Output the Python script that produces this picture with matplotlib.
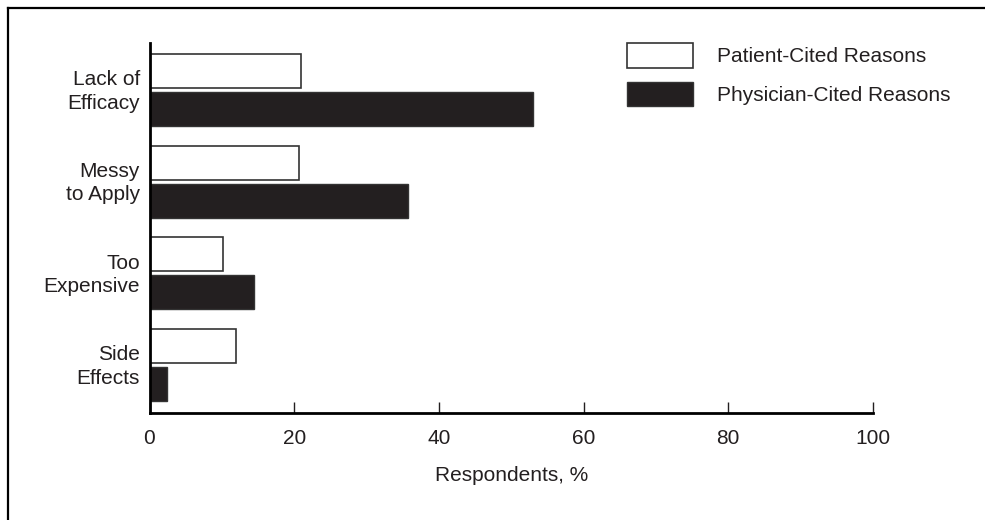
import matplotlib
matplotlib.use("Agg")
import matplotlib.pyplot as plt
from matplotlib.lines import Line2D
from matplotlib.transforms import ScaledTranslation
import numpy as np

# --- donnees ---
categories = ["Lack of\nEfficacy", "Messy\nto Apply", "Too\nExpensive", "Side\nEffects"]
patient = [21.0, 20.6, 10.1, 12.0]
medecin = [53.0, 35.7, 14.5, 2.4]
noms_series = ["Patient-Cited Reasons", "Physician-Cited Reasons"]
graduations = [0, 20, 40, 60, 80, 100]

ENCRE = "#231f20"
plt.rcParams["font.family"] = ["Liberation Sans", "DejaVu Sans"]
plt.rcParams["font.size"] = 15

W, H = 985, 520
fig = plt.figure(figsize=(W / 100, H / 100), dpi=100)
ax = fig.add_axes([149.5 / W, 1 - 413 / H, (873 - 149.5) / W, (413 - 43) / H])

y = np.arange(len(categories))
haut = 0.37
dec = 0.207
ax.barh(y - dec, patient, height=haut, color="white", edgecolor="#333333",
        linewidth=1.2, label=noms_series[0])
ax.barh(y + dec, medecin, height=haut, color=ENCRE, edgecolor="#333333",
        linewidth=1.0, label=noms_series[1])

ax.set_xlim(0, 100)
ax.set_ylim(3.52, -0.51)
ax.set_yticks(y)
ax.set_yticklabels(categories, color=ENCRE, ha="right", linespacing=1.3)
ax.tick_params(axis="y", length=0, pad=7)
# petit decalage vers le haut des etiquettes de categories
decalage = ScaledTranslation(0, 2 / 72, fig.dpi_scale_trans)
for lab in ax.get_yticklabels():
    lab.set_transform(lab.get_transform() + decalage)
ax.set_xticks(graduations)
ax.tick_params(axis="x", direction="in", length=8, width=1, pad=11.5,
               colors=ENCRE, labelcolor=ENCRE)
for s in ("top", "right"):
    ax.spines[s].set_visible(False)
for s in ("left", "bottom"):
    ax.spines[s].set_linewidth(2)
    ax.spines[s].set_color("black")
ax.set_xlabel("Respondents, %", color=ENCRE, labelpad=13)

ax.legend(loc="upper left", bbox_to_anchor=(627 / W, 1 - 43 / H),
          bbox_transform=fig.transFigure, frameon=False, borderpad=0,
          borderaxespad=0, handlelength=3.17, handleheight=1.45,
          handletextpad=1.15, labelspacing=0.67, labelcolor=ENCRE)

# cadre partiel (haut et gauche)
fig.add_artist(Line2D([8 / W, 1], [1 - 7.5 / H, 1 - 7.5 / H],
                      transform=fig.transFigure, color="black", lw=1.6))
fig.add_artist(Line2D([8 / W, 8 / W], [0, 1 - 7.5 / H],
                      transform=fig.transFigure, color="black", lw=1.6))

fig.savefig("out.png", dpi=100)
